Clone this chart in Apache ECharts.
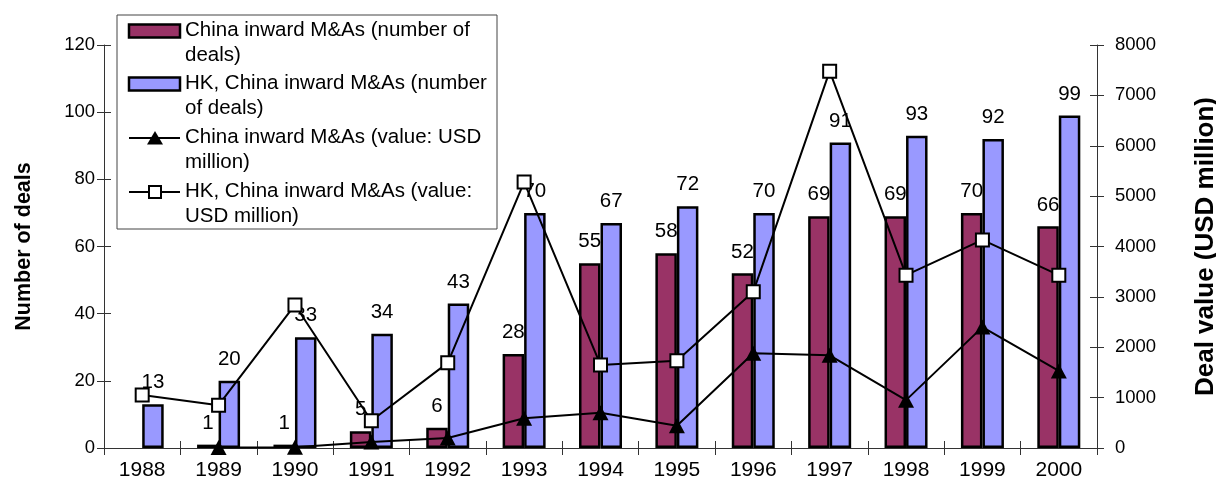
<!DOCTYPE html>
<html>
<head>
<meta charset="utf-8">
<script src="https://cdn.jsdelivr.net/npm/echarts@6/dist/echarts.min.js"></script>
<style>
  html, body { margin: 0; padding: 0; background: #fff; overflow: hidden; }
  #chart { width: 1216px; height: 491px; }
</style>
</head>
<body>
<div id="chart"></div>
<script>
// Inward M&As into China and Hong Kong, 1988-2000
const years = ['1988', '1989', '1990', '1991', '1992', '1993', '1994', '1995', '1996', '1997', '1998', '1999', '2000'];
const chinaDeals = [null, 1, 1, 5, 6, 28, 55, 58, 52, 69, 69, 70, 66];
const hkDeals = [13, 20, 33, 34, 43, 70, 67, 72, 70, 91, 93, 92, 99];
const chinaValue = [null, 10, 15, 120, 200, 590, 700, 440, 1880, 1840, 950, 2400, 1530];
const hkValue = [1050, 850, 2840, 540, 1690, 5280, 1650, 1730, 3100, 7480, 3430, 4130, 3430];

const legendLabels = [
  'China inward M&As (number of\ndeals)',
  'HK, China inward M&As (number\nof deals)',
  'China inward M&As (value: USD\nmillion)',
  'HK, China inward M&As (value:\nUSD million)'
];

const FONT = '"Liberation Sans", Arial, sans-serif';
const MAROON = '#993366';
const LAVENDER = '#9999FF';
const AXIS = '#333';

const chart = echarts.init(document.getElementById('chart'), null, { renderer: 'canvas' });

// y-axis builder; a second copy with inward ticks makes the ticks cross the axis line
function valueAxis(pos, max, interval, withLabels, inside) {
  return {
    type: 'value', position: pos, min: 0, max: max, interval: interval, offset: 0,
    splitLine: { show: false },
    axisLine: { show: withLabels, lineStyle: { color: AXIS, width: 1 } },
    axisTick: { show: true, inside: inside, length: 7, lineStyle: { color: AXIS, width: 1 } },
    axisLabel: {
      show: withLabels, color: '#000', fontFamily: FONT, fontSize: 18.5, margin: 9,
      formatter: function (v) { return String(v); }
    }
  };
}

const leftAxis = valueAxis('left', 120, 20, true, false);
leftAxis.name = 'Number of deals';
leftAxis.nameLocation = 'middle';
leftAxis.nameRotate = 90;
leftAxis.nameGap = 69;
leftAxis.nameTextStyle = { color: '#000', fontFamily: FONT, fontSize: 21.5, fontWeight: 'bold' };

const rightAxis = valueAxis('right', 8000, 1000, true, false);
rightAxis.name = 'Deal value (USD million)';
rightAxis.nameLocation = 'middle';
rightAxis.nameRotate = 90;
rightAxis.nameGap = 96;
rightAxis.nameTextStyle = { color: '#000', fontFamily: FONT, fontSize: 26, fontWeight: 'bold' };
rightAxis.axisLabel.margin = 18;

const barLabel = {
  show: true, position: 'top', distance: 11,
  color: '#000', fontFamily: FONT, fontSize: 20.5
};

// Legend box, drawn as graphics so each two-line entry keeps its key on the first line
const legendTop = [31, 84, 138, 192];
const keyX0 = 129, keyX1 = 180, textX = 185;
const legendGraphics = [
  { type: 'rect', shape: { x: 117, y: 15, width: 380, height: 214 },
    style: { fill: '#fff', stroke: '#444', lineWidth: 1 }, z: 100 },
  { type: 'rect', shape: { x: keyX0, y: legendTop[0] - 6.5, width: keyX1 - keyX0, height: 13 },
    style: { fill: MAROON, stroke: '#000', lineWidth: 2.5 }, z: 101 },
  { type: 'rect', shape: { x: keyX0, y: legendTop[1] - 6.5, width: keyX1 - keyX0, height: 13 },
    style: { fill: LAVENDER, stroke: '#000', lineWidth: 2.5 }, z: 101 },
  { type: 'line', shape: { x1: keyX0, y1: legendTop[2], x2: keyX1, y2: legendTop[2] },
    style: { stroke: '#000', lineWidth: 2 }, z: 101 },
  { type: 'polygon', shape: { points: [[155, legendTop[2] - 7], [147, legendTop[2] + 6.5], [163, legendTop[2] + 6.5]] },
    style: { fill: '#000' }, z: 102 },
  { type: 'line', shape: { x1: keyX0, y1: legendTop[3], x2: keyX1, y2: legendTop[3] },
    style: { stroke: '#000', lineWidth: 2 }, z: 101 },
  { type: 'rect', shape: { x: 149, y: legendTop[3] - 6, width: 12, height: 12 },
    style: { fill: '#fff', stroke: '#000', lineWidth: 2 }, z: 102 }
];
legendLabels.forEach(function (txt, i) {
  legendGraphics.push({
    type: 'text', x: textX, y: legendTop[i] - 12.5, z: 101,
    style: { text: txt, fill: '#000', font: '20.5px ' + FONT, lineHeight: 24.5, verticalAlign: 'top', align: 'left' }
  });
});

const option = {
  backgroundColor: '#fff',
  animation: false,
  textStyle: { fontFamily: FONT },
  grid: { left: 104, right: 119, top: 45, bottom: 43, containLabel: false, outerBoundsMode: 'none' },
  xAxis: [
    {
      type: 'category', data: years, position: 'bottom', offset: 0,
      axisLine: { show: true, onZero: false, lineStyle: { color: AXIS, width: 1 } },
      axisTick: { show: true, interval: 0, length: 7, inside: false, lineStyle: { color: AXIS } },
      axisLabel: { interval: 0, color: '#000', fontFamily: FONT, fontSize: 21, margin: 12 },
      splitLine: { show: false }
    },
    {
      type: 'category', data: years, position: 'bottom', offset: 0,
      axisLine: { show: false },
      axisTick: { show: true, interval: 0, length: 7, inside: true, lineStyle: { color: AXIS } },
      axisLabel: { show: false },
      splitLine: { show: false }
    }
  ],
  yAxis: [
    leftAxis,
    rightAxis,
    valueAxis('left', 120, 20, false, true),
    valueAxis('right', 8000, 1000, false, true)
  ],
  series: [
    {
      name: 'China inward M&As (number of deals)', type: 'bar',
      xAxisIndex: 0, yAxisIndex: 0, data: chinaDeals,
      barWidth: 21.5, barGap: '0%',
      itemStyle: { color: MAROON, borderColor: '#000', borderWidth: 2.5 },
      label: barLabel
    },
    {
      name: 'HK, China inward M&As (number of deals)', type: 'bar',
      xAxisIndex: 0, yAxisIndex: 0, data: hkDeals,
      barWidth: 21.5, barGap: '0%',
      itemStyle: { color: LAVENDER, borderColor: '#000', borderWidth: 2.5 },
      label: barLabel
    },
    {
      name: 'China inward M&As (value: USD million)', type: 'line',
      xAxisIndex: 0, yAxisIndex: 1, data: chinaValue,
      symbol: 'triangle', symbolSize: [16, 15],
      itemStyle: { color: '#000' },
      lineStyle: { color: '#000', width: 2 },
      z: 5
    },
    {
      name: 'HK, China inward M&As (value: USD million)', type: 'line',
      xAxisIndex: 0, yAxisIndex: 1, data: hkValue,
      symbol: 'rect', symbolSize: 13,
      itemStyle: { color: '#fff', borderColor: '#000', borderWidth: 2 },
      lineStyle: { color: '#000', width: 2 },
      z: 6
    }
  ],
  graphic: legendGraphics
};

chart.setOption(option);
</script>
</body>
</html>
